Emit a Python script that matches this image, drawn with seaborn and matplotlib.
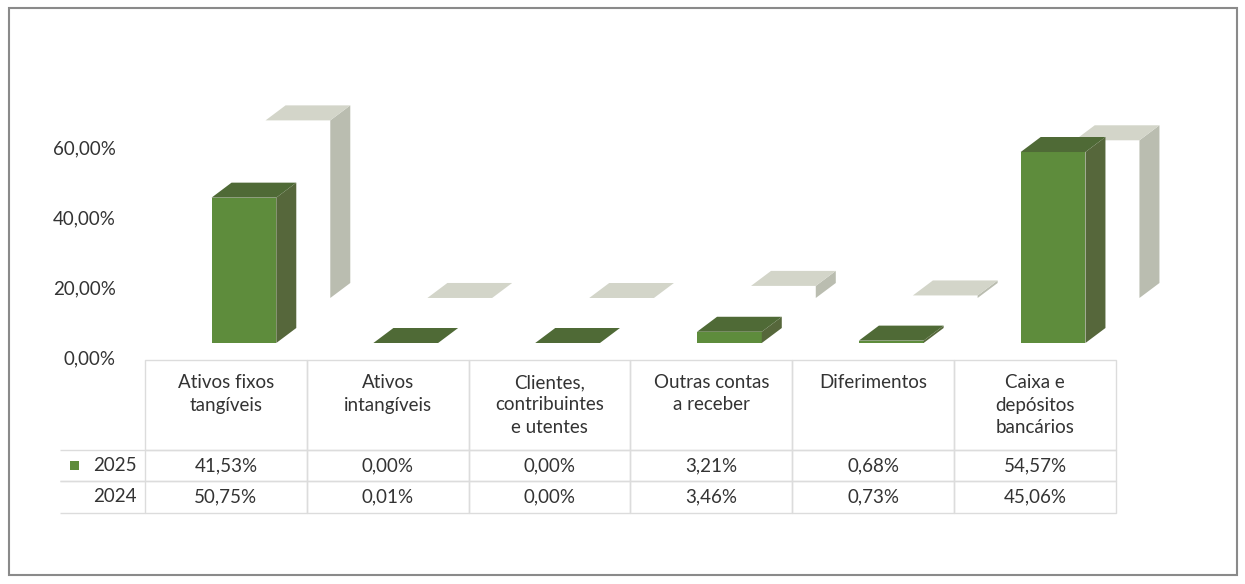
import matplotlib
matplotlib.use('Agg')
import matplotlib.pyplot as plt
import seaborn as sns
from matplotlib.patches import Polygon, Rectangle
from matplotlib.transforms import offset_copy

# --- data ---
categories = ['Ativos fixos tangíveis', 'Ativos intangíveis',
              'Clientes, contribuintes e utentes', 'Outras contas a receber',
              'Diferimentos', 'Caixa e depósitos bancários']
header_labels = ['Ativos fixos\ntangíveis\n', 'Ativos\nintangíveis\n',
                 'Clientes,\ncontribuintes\ne utentes', 'Outras contas\na receber\n',
                 'Diferimentos\n\n', 'Caixa e\ndepósitos\nbancários']
years = ['2025', '2024']
values_2025 = [41.53, 0.00, 0.00, 3.21, 0.68, 54.57]
values_2024 = [50.75, 0.01, 0.00, 3.46, 0.73, 45.06]
y_ticks = [0, 20, 40, 60]

GREEN_FRONT, GREEN_SIDE, GREEN_TOP = '#5e8c3c', '#56673b', '#4f6a36'
GREY_SIDE, GREY_TOP = '#babdb0', '#d3d5c9'
TEXT = '#333333'
GRID = '#dcdcdc'
FS = 13.5


def pct(v):
    return f"{v:.2f}".replace('.', ',') + '%'


sns.set_theme(style='white')
plt.rcParams['font.family'] = ['Lato', 'DejaVu Sans']

W, H = 1245, 584
fig = plt.figure(figsize=(W / 100, H / 100), dpi=100)
fig.patch.set_facecolor('white')

# plot area: 6 columns of the data table, value 0 at the 0,00% label
ax = fig.add_axes([145 / W, (H - 357) / H, 971 / W, 245 / H])
ax.set_facecolor('none')

# depth of the pseudo-3D boxes, converted to data units
px_x = 971 / 6
px_y = 245 / 70
depth_x, depth_y = 20 / px_x, 15 / px_y


def draw_series(values, front, side, top, shift, z):
    n0 = len(ax.patches)
    sns.barplot(x=categories, y=values, color=front, saturation=1, width=0.40,
                errorbar=None, linewidth=0, ax=ax)
    trans = offset_copy(ax.transData, fig=fig, x=shift[0], y=shift[1], units='dots')
    for p in ax.patches[n0:]:
        p.set_transform(trans)
        p.set_clip_on(False)
        p.set_zorder(z)
        x0, w, h = p.get_x(), p.get_width(), p.get_height()
        x1 = x0 + w
        top_face = [(x0, h), (x1, h), (x1 + depth_x, h + depth_y), (x0 + depth_x, h + depth_y)]
        side_face = [(x1, 0), (x1 + depth_x, depth_y), (x1 + depth_x, h + depth_y), (x1, h)]
        for verts, col in ((side_face, side), (top_face, top)):
            ax.add_patch(Polygon(verts, closed=True, facecolor=col, edgecolor='none',
                                 transform=trans, clip_on=False, zorder=z))


# back row (2024) first, then front row (2025)
draw_series(values_2024, 'white', GREY_SIDE, GREY_TOP, (72, 59), 1)
draw_series(values_2025, GREEN_FRONT, GREEN_SIDE, GREEN_TOP, (18, 14), 3)

ax.set_xlim(-0.5, 5.5)
ax.set_ylim(0, 70)
ax.set_xticks([])
ax.set_xlabel('')
ax.set_yticks(y_ticks)
ax.set_yticklabels([pct(t) for t in y_ticks])
ax.tick_params(axis='y', length=0, pad=21, labelsize=FS, labelcolor=TEXT)
for s in ax.spines.values():
    s.set_visible(False)

# data table under the bars
cell_text = [[''] + header_labels,
             [years[0]] + [pct(v) for v in values_2025],
             [years[1]] + [pct(v) for v in values_2024]]
left = (60 - 145) / 971
tbl = ax.table(cellText=cell_text, cellLoc='center',
               bbox=[left, -(513 - 357) / 245, (1116 - 60) / 971, (513 - 360) / 245])
tbl.auto_set_font_size(False)
tbl.set_fontsize(FS)
row_h = [90, 31, 32]
for (r, c), cell in tbl.get_celld().items():
    cell.set_width((85 if c == 0 else 162) / 971)
    cell.set_height(row_h[r] / 245)
    cell.set_edgecolor(GRID)
    cell.set_linewidth(1)
    cell.set_facecolor('none')
    cell.get_text().set_color(TEXT)
    if r == 0:
        cell.get_text().set_linespacing(1.4)
        if c == 0:
            cell.visible_edges = ''
    elif c == 0:
        cell.visible_edges = 'BT'
        cell.set_text_props(ha='right')

# legend key next to 2025
fig.add_artist(Rectangle((70 / W, (H - 470) / H), 9 / W, 9 / H, transform=fig.transFigure,
                         facecolor=GREEN_FRONT, edgecolor='none'))

# outer chart frame
fig.add_artist(Rectangle((9 / W, 9 / H), 1228 / W, 567 / H, transform=fig.transFigure,
                         fill=False, edgecolor='#8a8a8a', linewidth=1.5))

fig.savefig('out.png', dpi=100)
plt.close(fig)
